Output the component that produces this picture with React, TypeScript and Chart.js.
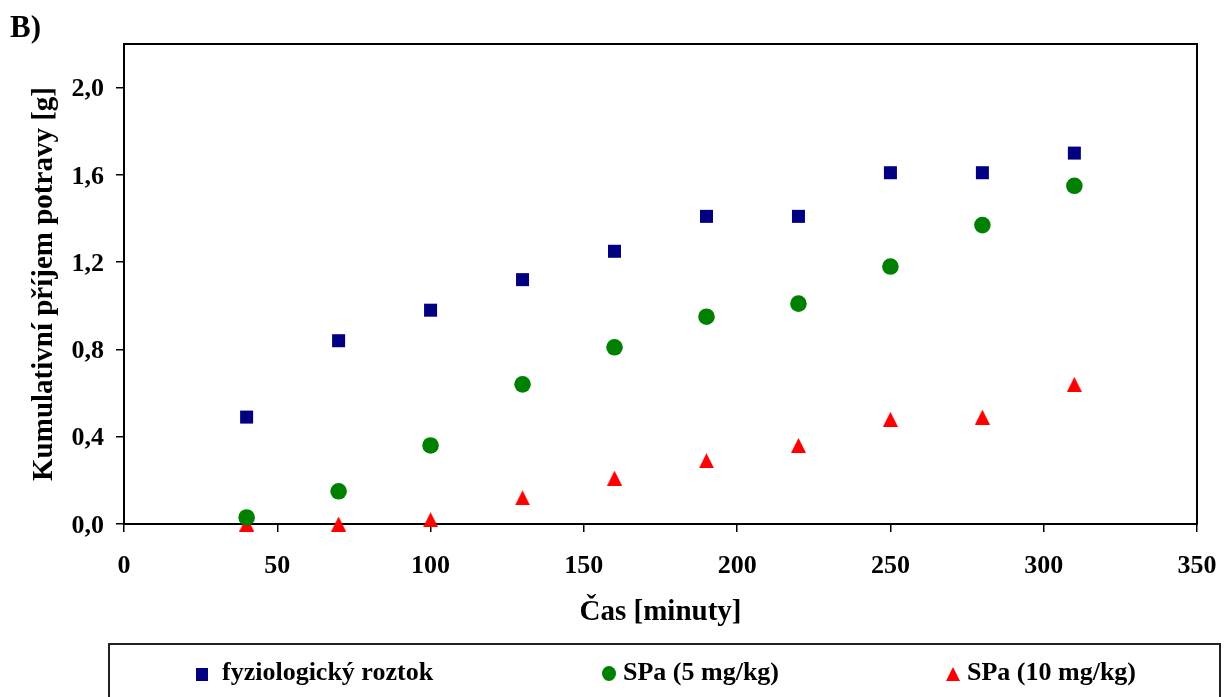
import React, { useEffect, useRef } from "react";
import { Chart, registerables } from "chart.js";

Chart.register(...registerables);

// ---- data ----
const xMinutes = [40, 70, 100, 130, 160, 190, 220, 250, 280, 310];
const fyzRoztok = [0.49, 0.84, 0.98, 1.12, 1.25, 1.41, 1.41, 1.61, 1.61, 1.7];
const spa5 = [0.03, 0.15, 0.36, 0.64, 0.81, 0.95, 1.01, 1.18, 1.37, 1.55];
const spa10 = [0.0, 0.0, 0.02, 0.12, 0.21, 0.29, 0.36, 0.48, 0.49, 0.64];

const seriesLabels = ["fyziologický roztok", "SPa (5 mg/kg)", "SPa (10 mg/kg)"];
const seriesColors = ["#000080", "#008000", "#FF0000"];

const xTickValues = [0, 50, 100, 150, 200, 250, 300, 350];
const yTickValues = [0, 0.4, 0.8, 1.2, 1.6, 2.0];

const xTitle = "Čas [minuty]";
const yTitle = "Kumulativní příjem potravy [g]";
const panelLabel = "B)";

const FAMILY = "'Liberation Serif', 'Times New Roman', serif";
const font = (size: number) => ({ family: FAMILY, size, weight: "bold" as const });

function makeTriangle(size: number, color: string) {
  const c = document.createElement("canvas");
  c.width = size;
  c.height = size;
  const ctx = c.getContext("2d")!;
  ctx.fillStyle = color;
  ctx.beginPath();
  ctx.moveTo(size / 2, 0);
  ctx.lineTo(size, size);
  ctx.lineTo(0, size);
  ctx.closePath();
  ctx.fill();
  return c;
}

const framePlugin = {
  id: "frame",
  beforeDatasetsDraw(chart: any) {
    const { ctx, chartArea: a } = chart;
    ctx.save();
    ctx.strokeStyle = "#000";
    ctx.lineWidth = 2;
    ctx.strokeRect(a.left, a.top, a.right - a.left, a.bottom - a.top);
    ctx.restore();
  },
};

export default function App() {
  const ref = useRef<HTMLCanvasElement | null>(null);

  useEffect(() => {
    if (!ref.current) return;
    const tri = makeTriangle(15, seriesColors[2]);
    const chart = new Chart(ref.current, {
      type: "scatter",
      data: {
        datasets: [
          {
            label: seriesLabels[0],
            data: xMinutes.map((x, i) => ({ x, y: fyzRoztok[i] })),
            pointStyle: "rect",
            pointRadius: 9.2,
            backgroundColor: seriesColors[0],
            borderWidth: 0,
            clip: false,
          },
          {
            label: seriesLabels[1],
            data: xMinutes.map((x, i) => ({ x, y: spa5[i] })),
            pointStyle: "circle",
            pointRadius: 8.3,
            backgroundColor: seriesColors[1],
            borderWidth: 0,
            clip: false,
          },
          {
            label: seriesLabels[2],
            data: xMinutes.map((x, i) => ({ x, y: spa10[i] })),
            pointStyle: tri as any,
            pointRadius: 8,
            backgroundColor: seriesColors[2],
            borderWidth: 0,
            clip: false,
          },
        ],
      },
      options: {
        animation: false,
        responsive: false,
        devicePixelRatio: 1,
        events: [],
        layout: { padding: { left: 0, top: 44, right: 31, bottom: 57 } },
        plugins: { legend: { display: false }, tooltip: { enabled: false } },
        scales: {
          x: {
            type: "linear",
            min: 0,
            max: 350,
            afterBuildTicks: (s: any) => {
              s.ticks = xTickValues.map((v) => ({ value: v }));
            },
            afterFit: (s: any) => {
              s.height = 116;
              s.paddingLeft = 0;
              s.paddingRight = 0;
            },
            grid: {
              drawOnChartArea: false,
              drawTicks: true,
              tickLength: 8,
              color: "#000",
              lineWidth: 1.5,
            },
            border: { display: true, color: "#000", width: 2 },
            ticks: {
              color: "#000",
              font: font(26),
              padding: 19,
              maxRotation: 0,
              autoSkip: false,
              callback: (v: any) => String(v),
            },
            title: {
              display: true,
              text: xTitle,
              color: "#000",
              font: font(29),
              padding: { top: 0, bottom: 10 },
            },
          },
          y: {
            type: "linear",
            min: 0,
            max: 2.2,
            afterBuildTicks: (s: any) => {
              s.ticks = yTickValues.map((v) => ({ value: v }));
            },
            afterFit: (s: any) => {
              s.width = 124;
              s.paddingTop = 0;
              s.paddingBottom = 0;
            },
            grid: {
              drawOnChartArea: false,
              drawTicks: true,
              tickLength: 8,
              color: "#000",
              lineWidth: 1.5,
            },
            border: { display: true, color: "#000", width: 2 },
            ticks: {
              color: "#000",
              font: font(26),
              padding: 12,
              labelOffset: 2,
              autoSkip: false,
              callback: (v: any) => Number(v).toFixed(1).replace(".", ","),
            },
            title: {
              display: true,
              text: yTitle,
              color: "#000",
              font: font(29),
              padding: { top: 27, bottom: 0 },
            },
          },
        },
      },
      plugins: [framePlugin],
    });
    return () => chart.destroy();
  }, []);

  const legendText: React.CSSProperties = {
    position: "absolute",
    top: 659,
    fontFamily: FAMILY,
    fontWeight: "bold",
    fontSize: 26,
    lineHeight: 1,
    whiteSpace: "nowrap",
    color: "#000",
  };

  return (
    <div
      style={{
        position: "fixed",
        left: 0,
        top: 0,
        width: 1228,
        height: 697,
        background: "#fff",
        overflow: "hidden",
      }}
    >
      <canvas
        ref={ref}
        width={1228}
        height={697}
        style={{ position: "absolute", left: 0, top: 0, width: 1228, height: 697 }}
      />
      <div
        style={{
          position: "absolute",
          left: 10,
          top: 11,
          fontFamily: FAMILY,
          fontWeight: "bold",
          fontSize: 31,
          lineHeight: 1,
          color: "#000",
        }}
      >
        {panelLabel}
      </div>
      <div
        style={{
          position: "absolute",
          left: 108,
          top: 643,
          width: 1113,
          height: 80,
          border: "2px solid #222",
          boxSizing: "border-box",
        }}
      />
      <div
        style={{
          position: "absolute",
          left: 196,
          top: 668,
          width: 12,
          height: 13,
          background: seriesColors[0],
        }}
      />
      <div style={{ ...legendText, left: 222 }}>{seriesLabels[0]}</div>
      <div
        style={{
          position: "absolute",
          left: 602,
          top: 666,
          width: 14,
          height: 15,
          borderRadius: "50%",
          background: seriesColors[1],
        }}
      />
      <div style={{ ...legendText, left: 623 }}>{seriesLabels[1]}</div>
      <div
        style={{
          position: "absolute",
          left: 946,
          top: 667,
          width: 0,
          height: 0,
          borderLeft: "7px solid transparent",
          borderRight: "7px solid transparent",
          borderBottom: "14px solid " + seriesColors[2],
        }}
      />
      <div style={{ ...legendText, left: 967 }}>{seriesLabels[2]}</div>
    </div>
  );
}
